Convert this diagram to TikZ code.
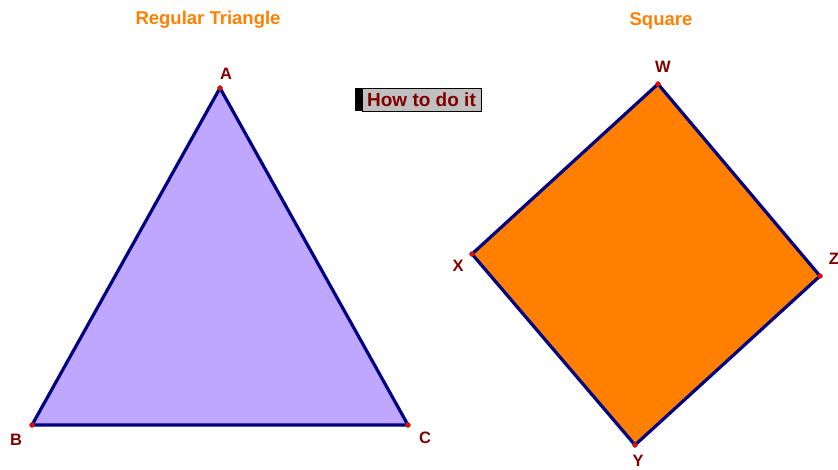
\documentclass[tikz,border=0pt]{standalone}
\usepackage{fontspec}
\setmainfont{Liberation Sans}
\usetikzlibrary{positioning}
\definecolor{trifill}{RGB}{191,166,255}
\definecolor{edgeblue}{RGB}{0,0,128}
\definecolor{sqorange}{RGB}{255,128,0}
\definecolor{labred}{RGB}{128,0,0}
\definecolor{btngray}{RGB}{192,192,192}
\begin{document}
\begin{tikzpicture}[x=1pt,y=-1pt,
  vlabel/.style={font=\fontsize{16.5}{16.5}\selectfont\bfseries,text=labred,inner sep=0pt},
  title/.style={font=\fontsize{18.5}{18.5}\selectfont\bfseries,text=sqorange,inner sep=0pt},
  edge/.style={draw=edgeblue,line width=3.2pt,line join=round},
  pt/.style={circle,fill=red,draw=black!70,line width=0.4pt,inner sep=0pt,minimum size=5pt}]
\useasboundingbox (0,0) rectangle (838,469);
\clip (0,0) rectangle (838,469);
% Titles
\node[title] (ttri) at (208,20) {Regular Triangle};
\node[title] (tsq) at (661,21) {Square};
% Triangle
\coordinate (A) at (220,88);
\coordinate (B) at (32,425);
\coordinate (C) at (408,425);
\fill[trifill] (A) -- (B) -- (C) -- cycle;
\draw[edge] (A) -- (B) -- (C) -- cycle;
% Square
\coordinate (W) at (658,84);
\coordinate (X) at (472,254);
\coordinate (Y) at (635,445);
\coordinate (Z) at (820,276);
\fill[sqorange] (W) -- (X) -- (Y) -- (Z) -- cycle;
\draw[edge] (W) -- (X) -- (Y) -- (Z) -- cycle;
% Vertices and labels
\foreach \v in {A,B,C,W,X,Y,Z} {
  \node[pt] (p\v) at (\v) {};
}
\node[vlabel] (lA) at (226,74) {A};
\node[vlabel] (lB) at (16,440) {B};
\node[vlabel] (lC) at (425,438) {C};
\node[vlabel] (lW) at (663,67) {W};
\node[vlabel] (lX) at (458,266) {X};
\node[vlabel] (lY) at (638,460.5) {Y};
\node[vlabel] (lZ) at (834,259) {Z};
% Button
\fill[black] (355,88) rectangle (362,111);
\node[draw=black,line width=0.8pt,fill=btngray,minimum width=119pt,minimum height=23pt,inner sep=0pt,
  font=\fontsize{19}{19}\selectfont\bfseries,text=labred] (howto) at (421.5,99.5) {How to do it};
\end{tikzpicture}
\end{document}
